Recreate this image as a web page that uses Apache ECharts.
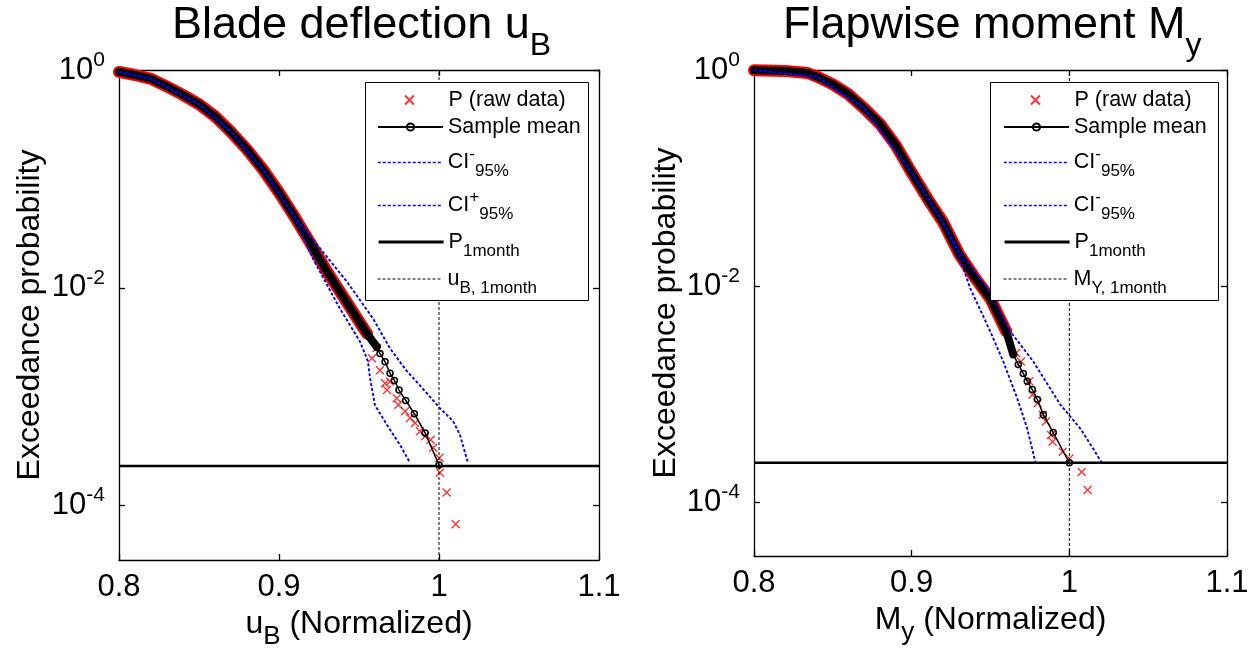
<!DOCTYPE html>
<html><head><meta charset="utf-8">
<script src="https://cdn.jsdelivr.net/npm/echarts@6/dist/echarts.min.js"></script>
<style>html,body{margin:0;padding:0;background:#fff}#c{width:1256px;height:655px}</style>
</head><body><div id="c"></div>
<script>
// ---------- axis / reference values ----------
const xTicks = [0.8, 0.9, 1.0, 1.1];
const yTickValues = [1e-4, 1e-2, 1];
const yMin = 3.1623e-5;          // 10^-4.5, bottom of the log axis
const yMax = 1;
const p1month = 2.31e-4;          // 1-month exceedance probability level
const xLevel = 1.0;               // normalized 1-month level

// ---------- left panel: blade deflection ----------
const bladeMeanX = [0.800,0.810,0.820,0.830,0.840,0.850,0.860,0.870,0.880,0.890,0.900,0.910,0.920,0.930,0.940,0.950,0.955,0.9611,0.9631,0.9663,0.9694,0.9721,0.9750,0.9792,0.9846,0.9913,1.0000];
const bladeMeanP = [0.960,0.900,0.830,0.705,0.590,0.485,0.375,0.270,0.186,0.122,0.0750,0.0442,0.0252,0.0141,0.00834,0.00493,0.00380,0.00287,0.00249,0.00209,0.00164,0.00141,0.00115,0.000923,0.000697,0.000465,0.000236];
const bladeMeanDense = 18;
const bladeRawX = [0.800,0.810,0.820,0.830,0.840,0.850,0.860,0.870,0.880,0.890,0.900,0.910,0.920,0.930,0.940,0.950,0.955,0.9581,0.9611,0.9631,0.9663,0.9675,0.9694,0.9736,0.9746,0.9788,0.9819,0.9850,0.9881,0.9913,0.9948,0.9964,1.0002,1.0006,1.0048,1.0104];
const bladeRawP = [0.960,0.900,0.830,0.705,0.590,0.485,0.375,0.270,0.186,0.122,0.0750,0.0442,0.0252,0.0141,0.00834,0.00493,0.00380,0.00225,0.00280,0.00175,0.00133,0.00115,0.00138,0.000968,0.000841,0.000733,0.000637,0.000573,0.000481,0.000434,0.000403,0.000339,0.000274,0.000200,0.000132,0.0000675];
const bladeRawDense = 17;
const bladeCILowX = [0.800,0.820,0.850,0.870,0.890,0.910,0.9213,0.9381,0.9506,0.9556,0.9569,0.9600,0.9675,0.9756,0.9819];
const bladeCILowP = [0.960,0.830,0.485,0.270,0.122,0.0442,0.0184,0.00643,0.00321,0.00211,0.00148,0.000836,0.000550,0.000361,0.000247];
const bladeCIHighX = [0.800,0.820,0.850,0.870,0.890,0.910,0.9275,0.9425,0.9588,0.9694,0.9800,0.9881,1.0006,1.0088,1.0131,1.0181];
const bladeCIHighP = [0.960,0.830,0.485,0.270,0.122,0.0442,0.0213,0.01135,0.00521,0.00277,0.00171,0.00127,0.000785,0.000597,0.000445,0.000247];

// ---------- right panel: flapwise moment ----------
const momentMeanX = [0.800,0.820,0.834,0.840,0.850,0.860,0.870,0.880,0.890,0.900,0.910,0.920,0.930,0.940,0.950,0.960,0.9644,0.9676,0.9708,0.9733,0.9765,0.9797,0.9835,0.9898,1.0000];
const momentMeanP = [0.995,0.980,0.938,0.867,0.736,0.594,0.440,0.315,0.200,0.112,0.0646,0.0388,0.0199,0.0120,0.00759,0.00381,0.00233,0.00188,0.00155,0.00131,0.00110,0.000889,0.000644,0.000439,0.000231];
const momentMeanDense = 17;
const momentRawX = [0.800,0.820,0.834,0.840,0.850,0.860,0.870,0.880,0.890,0.900,0.910,0.920,0.930,0.940,0.950,0.960,0.9662,0.9693,0.9746,0.9767,0.9799,0.9831,0.9852,0.9884,0.9894,0.9958,1.0000,1.0078,1.0116];
const momentRawP = [0.995,0.980,0.938,0.867,0.736,0.594,0.440,0.315,0.200,0.112,0.0646,0.0388,0.0199,0.0120,0.00759,0.00381,0.00240,0.00200,0.00131,0.000984,0.000822,0.000641,0.000555,0.000417,0.000361,0.000292,0.000253,0.000190,0.000129];
const momentRawDense = 16;
const momentCILowX = [0.800,0.840,0.870,0.900,0.920,0.930,0.9371,0.9498,0.9581,0.9670,0.9733,0.9784];
const momentCILowP = [0.995,0.867,0.440,0.112,0.0388,0.0190,0.00957,0.00381,0.00200,0.000908,0.000478,0.000236];
const momentCIHighX = [0.800,0.840,0.870,0.900,0.920,0.930,0.9479,0.9625,0.9771,0.9943,1.0070,1.0152,1.0210];
const momentCIHighP = [0.995,0.867,0.440,0.112,0.0388,0.0210,0.00957,0.00381,0.00200,0.000798,0.000478,0.000311,0.000225];

// ---------- text ----------
const titles = ['{t|Blade deflection u}{s|B}', '{t|Flapwise moment M}{s|y}'];
const xNames = ['{m|u}{s|B}{m| (Normalized)}', '{m|M}{s|y}{m| (Normalized)}'];
const yName = 'Exceedance probability';
const legendLabels = [
  ['{pad|P (raw data)}', '{m|Sample mean}', '{m|CI}{sup|-}{sub|95%}', '{m|CI}{sup|+}{sub|95%}', '{m|P}{sub|1month}', '{m|u}{sub|B, 1month}'],
  ['{pad|P (raw data)}', '{m|Sample mean}', '{m|CI}{sup|-}{sub|95%}', '{m|CI}{sup|-}{sub|95%}', '{m|P}{sub|1month}', '{m|M}{sub|Y, 1month}']
];

const FONT = "'Liberation Sans', Arial, Helvetica, sans-serif";
const zip = (xs, ys) => xs.map((x, i) => [x, ys[i]]);
const X_PATH = 'path://M0,0L10,10M10,0L0,10';

const panels = [
  {meanX: bladeMeanX, meanP: bladeMeanP, meanDense: bladeMeanDense, rawX: bladeRawX, rawP: bladeRawP, rawDense: bladeRawDense,
   loX: bladeCILowX, loP: bladeCILowP, hiX: bladeCIHighX, hiP: bladeCIHighP,
   grid: {left: 119, top: 70, width: 480, height: 492}, legendLeft: 377, box: {x: 365.5, y: 82.5, width: 223, height: 218}, titleLeft: 172, yNameGap: 72},
  {meanX: momentMeanX, meanP: momentMeanP, meanDense: momentMeanDense, rawX: momentRawX, rawP: momentRawP, rawDense: momentRawDense,
   loX: momentCILowX, loP: momentCILowP, hiX: momentCIHighX, hiP: momentCIHighP,
   grid: {left: 754, top: 70, width: 473, height: 486}, legendLeft: 1003, box: {x: 990.5, y: 82.5, width: 228, height: 218}, titleLeft: 783, yNameGap: 70}
];

const grids = [], xAxes = [], yAxes = [], series = [], legends = [], titleOpts = [], graphics = [];
const axisLineStyle = {color: '#000', width: 1.3};
const legendRows = [100, 127, 160, 203, 242, 279];
const legendRich = {
  m: {fontSize: 21.5, lineHeight: 28, color: '#000', fontFamily: FONT},
  pad: {fontSize: 21.5, lineHeight: 28, color: '#000', fontFamily: FONT, padding: [0, 0, 0, 29]},
  sub: {fontSize: 17, height: 10, verticalAlign: 'bottom', color: '#000', fontFamily: FONT},
  sup: {fontSize: 17, height: 12, verticalAlign: 'top', color: '#000', fontFamily: FONT}
};

panels.forEach((pn, k) => {
  grids.push(Object.assign({}, pn.grid));
  const xi = k * 2, yi = k * 2;
  xAxes.push({
    gridIndex: k, type: 'value', min: xTicks[0], max: xTicks[xTicks.length - 1], interval: 0.1,
    axisLine: {lineStyle: axisLineStyle}, axisTick: {inside: true, length: 6, lineStyle: axisLineStyle},
    splitLine: {show: false},
    axisLabel: {fontSize: 31, color: '#000', fontFamily: FONT, margin: 12, formatter: v => String(+v.toFixed(2))},
    name: xNames[k], nameLocation: 'middle', nameGap: 47,
    nameTextStyle: {rich: {
      m: {fontSize: 32, lineHeight: 34, color: '#000', fontFamily: FONT},
      s: {fontSize: 26, height: 8, verticalAlign: 'bottom', color: '#000', fontFamily: FONT}
    }}
  });
  xAxes.push({
    gridIndex: k, type: 'value', position: 'top', min: xTicks[0], max: xTicks[xTicks.length - 1], interval: 0.1,
    axisLine: {lineStyle: axisLineStyle}, axisTick: {inside: true, length: 6, lineStyle: axisLineStyle},
    splitLine: {show: false}, axisLabel: {show: false}
  });
  yAxes.push({
    gridIndex: k, type: 'log', logBase: 10, min: yMin, max: yMax,
    axisLine: {lineStyle: axisLineStyle},
    axisTick: {inside: true, length: 6, lineStyle: axisLineStyle, customValues: yTickValues},
    splitLine: {show: false}, minorTick: {show: false},
    axisLabel: {
      margin: 14, fontFamily: FONT, customValues: yTickValues,
      formatter: v => '{b|10}{s|' + Math.round(Math.log10(v)) + '}',
      rich: {
        b: {fontSize: 31, lineHeight: 32, color: '#000', fontFamily: FONT},
        s: {fontSize: 21, height: 12, verticalAlign: 'top', color: '#000', fontFamily: FONT}
      }
    },
    name: yName, nameLocation: 'middle', nameRotate: 90, nameGap: pn.yNameGap,
    nameTextStyle: {fontSize: 32, lineHeight: 34, color: '#000', fontFamily: FONT}
  });
  yAxes.push({
    gridIndex: k, type: 'log', logBase: 10, min: yMin, max: yMax, position: 'right',
    axisLine: {lineStyle: axisLineStyle},
    axisTick: {inside: true, length: 6, lineStyle: axisLineStyle, customValues: yTickValues},
    splitLine: {show: false}, minorTick: {show: false}, axisLabel: {show: false}
  });

  const pre = 'p' + k + '_';
  const names = ['raw', 'mean', 'cil', 'cih', 'p1m', 'lvl'].map(s => pre + s);
  const base = {xAxisIndex: xi, yAxisIndex: yi, animation: false};

  // dense overlap of thousands of raw crosses -> red band
  series.push(Object.assign({}, base, {type: 'line', name: pre + 'rawband', data: zip(pn.rawX, pn.rawP).slice(0, pn.rawDense),
    symbol: 'none', lineStyle: {color: '#ff0000', width: 12, cap: 'round', join: 'round'}, z: 1, silent: true}));
  series.push(Object.assign({}, base, {type: 'scatter', name: names[0], data: zip(pn.rawX, pn.rawP),
    symbol: X_PATH, symbolSize: 8, itemStyle: {color: 'rgba(0,0,0,0)', borderColor: '#ff0000', borderWidth: 1.4}, z: 2}));
  // dense overlap of mean circles -> black band
  series.push(Object.assign({}, base, {type: 'line', name: pre + 'meanband', data: zip(pn.meanX, pn.meanP).slice(0, pn.meanDense),
    symbol: 'none', lineStyle: {color: '#000', width: 8, cap: 'round', join: 'round'}, z: 3, silent: true}));
  series.push(Object.assign({}, base, {type: 'line', name: names[1], data: zip(pn.meanX, pn.meanP),
    symbol: 'circle', symbolSize: 6, showAllSymbol: true,
    lineStyle: {color: '#000', width: 1.5}, itemStyle: {color: 'rgba(0,0,0,0)', borderColor: '#000', borderWidth: 1.5}, z: 4}));
  series.push(Object.assign({}, base, {type: 'line', name: names[2], data: zip(pn.loX, pn.loP),
    symbol: 'none', lineStyle: {color: '#0000ff', width: 1.9, type: [3, 2]}, itemStyle: {color: '#0000ff'}, z: 5}));
  series.push(Object.assign({}, base, {type: 'line', name: names[3], data: zip(pn.hiX, pn.hiP),
    symbol: 'none', lineStyle: {color: '#0000ff', width: 1.9, type: [3, 2]}, itemStyle: {color: '#0000ff'}, z: 5}));
  series.push(Object.assign({}, base, {type: 'line', name: names[4], data: [[xTicks[0], p1month], [xTicks[xTicks.length - 1], p1month]],
    symbol: 'none', lineStyle: {color: '#000', width: 2.6}, itemStyle: {color: '#000'}, z: 6}));
  series.push(Object.assign({}, base, {type: 'line', name: names[5], data: [[xLevel, yMin], [xLevel, yMax]],
    symbol: 'none', lineStyle: {color: '#000', width: 1, type: [3, 2]}, itemStyle: {color: '#000'}, z: 6}));

  const lineWidths = [null, 2, 1.6, 1.6, 3.2, 1];
  names.forEach((nm, j) => {
    const lg = {
      data: [nm], left: pn.legendLeft + (j === 0 ? 27 : 0), top: legendRows[j] - 14, orient: 'horizontal', padding: 0,
      itemWidth: j === 0 ? 10 : 65, itemHeight: 9, selectedMode: false, z: 20,
      formatter: () => legendLabels[k][j],
      textStyle: {fontSize: 21.5, lineHeight: 28, color: '#000', fontFamily: FONT, rich: legendRich}
    };
    if (lineWidths[j]) lg.lineStyle = {width: lineWidths[j]};
    if (j >= 2) lg.itemStyle = {opacity: 0};
    legends.push(lg);
  });

  titleOpts.push({
    text: titles[k], left: pn.titleLeft, top: 1, padding: 0,
    textStyle: {fontWeight: 'normal', rich: {
      t: {fontSize: 45, lineHeight: 50, color: '#000', fontFamily: FONT, fontWeight: 'normal'},
      s: {fontSize: 32, height: 10, verticalAlign: 'bottom', color: '#000', fontFamily: FONT, fontWeight: 'normal'}
    }}
  });
  graphics.push({type: 'rect', shape: pn.box, style: {fill: '#fff', stroke: '#000', lineWidth: 1}, z: 15});
});

const chart = echarts.init(document.getElementById('c'), null, {renderer: 'canvas'});
chart.setOption({
  animation: false,
  backgroundColor: '#fff',
  title: titleOpts,
  grid: grids,
  xAxis: xAxes,
  yAxis: yAxes,
  legend: legends,
  graphic: graphics,
  series: series
});
</script></body></html>
